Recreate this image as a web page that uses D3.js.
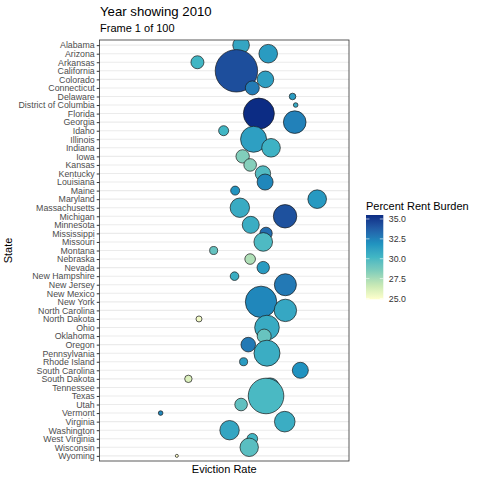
<!DOCTYPE html>
<html>
<head>
<meta charset="utf-8">
<script src="https://cdn.jsdelivr.net/npm/d3@7"></script>
<style>
  body { margin: 0; background: #fff; }
  svg { font-family: "Liberation Sans", Arial, sans-serif; }
</style>
</head>
<body>
<svg id="chart" width="480" height="480"></svg>
<script>
var states = ['Alabama', 'Arizona', 'Arkansas', 'California', 'Colorado', 'Connecticut',
  'Delaware', 'District of Columbia', 'Florida', 'Georgia', 'Idaho', 'Illinois', 'Indiana',
  'Iowa', 'Kansas', 'Kentucky', 'Louisiana', 'Maine', 'Maryland', 'Massachusetts', 'Michigan',
  'Minnesota', 'Mississippi', 'Missouri', 'Montana', 'Nebraska', 'Nevada', 'New Hampshire',
  'New Jersey', 'New Mexico', 'New York', 'North Carolina', 'North Dakota', 'Ohio', 'Oklahoma',
  'Oregon', 'Pennsylvania', 'Rhode Island', 'South Carolina', 'South Dakota', 'Tennessee',
  'Texas', 'Utah', 'Vermont', 'Virginia', 'Washington', 'West Virginia', 'Wisconsin', 'Wyoming'];

var evictionRate = [4.54, 5.41, 3.14, 4.39, 5.32, 4.90, 6.19, 6.29, 5.11, 6.26, 3.98, 4.94, 5.50,
  4.59, 4.83, 5.24, 5.31, 4.35, 6.98, 4.50, 5.95, 4.85, 5.34, 5.25, 3.66, 4.83, 5.25, 4.33,
  5.96, 5.21, 5.18, 5.96, 3.19, 5.37, 5.28, 4.77, 5.37, 4.62, 6.44, 2.85, 5.47, 5.34, 4.54,
  1.96, 5.94, 4.17, 4.90, 4.80, 2.48];

var rentBurden = [31.0, 31.5, 30.2, 34.3, 31.3, 32.7, 31.5, 30.8, 35.5, 32.5, 30.2, 31.3, 30.4,
  28.4, 28.3, 29.8, 32.3, 31.8, 31.6, 30.7, 34.2, 30.6, 33.2, 29.9, 29.3, 27.3, 31.5, 30.6,
  32.8, 30.5, 32.3, 30.9, 25.3, 30.7, 29.2, 32.8, 30.6, 31.5, 31.9, 26.0, 31.0, 30.0, 29.4,
  32.3, 30.6, 31.0, 30.2, 29.6, 24.9];

// renter households, thousands
var renters = [843, 1059, 517, 5500, 843, 600, 133, 65, 2940, 1563, 306, 2069, 1059, 549, 486,
  726, 783, 248, 1059, 1152, 1676, 884, 470, 1059, 196, 344, 470, 226, 1481, 441, 3017, 1535,
  110, 1852, 600, 652, 2069, 196, 783, 168, 1105, 3878, 486, 65, 1299, 1152, 344, 1036, 28];

var legendTicks = [25, 27.5, 30, 32.5, 35];
var palette = ['#ffffcc', '#c7e9b4', '#7fcdbb', '#41b6c4', '#1d91c0', '#225ea8', '#0c2c84'];

var rows = states.map(function(s, i) {
  return { state: s, rate: evictionRate[i], burden: rentBurden[i], renters: renters[i] };
});

var svg = d3.select('#chart');
var panel = { left: 99.5, right: 349, top: 40, bottom: 461 };

var x = d3.scaleLinear().domain([0, 8]).range([panel.left, panel.right]);
var y = d3.scalePoint().domain(states).range([panel.top, panel.bottom]).padding(0.6);
var r = d3.scaleSqrt().domain([0, 5500]).range([0, 21.2]);

var ext = d3.extent(rentBurden);
var color = d3.scaleLinear()
  .domain(palette.map(function(c, i) { return ext[0] + i * (ext[1] - ext[0]) / 6; }))
  .range(palette)
  .interpolate(d3.interpolateLab);

// titles
svg.append('text').attr('x', 100).attr('y', 16)
  .attr('font-size', 13.2).attr('fill', '#000').text('Year showing 2010');
svg.append('text').attr('x', 100).attr('y', 32)
  .attr('font-size', 11).attr('fill', '#000').text('Frame 1 of 100');

// horizontal grid
svg.append('g').selectAll('line').data(states).join('line')
  .attr('x1', panel.left).attr('x2', panel.right)
  .attr('y1', function(d) { return y(d); }).attr('y2', function(d) { return y(d); })
  .attr('stroke', '#ebebeb').attr('stroke-width', 1.07);

// bubbles, clipped to the panel
svg.append('clipPath').attr('id', 'clip').append('rect')
  .attr('x', panel.left).attr('y', panel.top)
  .attr('width', panel.right - panel.left).attr('height', panel.bottom - panel.top);

svg.append('g').attr('clip-path', 'url(#clip)')
  .selectAll('circle').data(rows).join('circle')
  .attr('cx', function(d) { return x(d.rate); })
  .attr('cy', function(d) { return y(d.state); })
  .attr('r', function(d) { return r(d.renters); })
  .attr('fill', function(d) { return color(d.burden); })
  .attr('stroke', '#1a1a1a').attr('stroke-width', 0.7);

// panel border
svg.append('rect')
  .attr('x', panel.left).attr('y', panel.top)
  .attr('width', panel.right - panel.left).attr('height', panel.bottom - panel.top)
  .attr('fill', 'none').attr('stroke', '#333').attr('stroke-width', 0.8);

// y axis
var yAxis = svg.append('g').attr('transform', 'translate(' + panel.left + ',0)')
  .call(d3.axisLeft(y).tickSize(2.75).tickPadding(2));
yAxis.select('.domain').remove();
yAxis.selectAll('.tick line').attr('stroke', '#333').attr('stroke-width', 1);
yAxis.selectAll('.tick text')
  .attr('font-family', '"Liberation Sans", Arial, sans-serif')
  .attr('font-size', 8.8).attr('fill', '#4d4d4d');

// axis titles
svg.append('text').attr('x', (panel.left + panel.right) / 2).attr('y', 473)
  .attr('text-anchor', 'middle').attr('font-size', 11).text('Eviction Rate');
svg.append('text')
  .attr('transform', 'translate(12,' + (panel.top + panel.bottom) / 2 + ') rotate(-90)')
  .attr('text-anchor', 'middle').attr('font-size', 11).text('State');

// colour bar legend
var bar = { x: 366, w: 17.3, top: 215, bottom: 299.3 };
var ly = d3.scaleLinear().domain(ext).range([bar.bottom, bar.top]);

var grad = svg.append('defs').append('linearGradient').attr('id', 'burden')
  .attr('x1', 0).attr('y1', 1).attr('x2', 0).attr('y2', 0);
grad.selectAll('stop').data(d3.range(0, 1.0001, 0.05)).join('stop')
  .attr('offset', function(t) { return t; })
  .attr('stop-color', function(t) { return color(ext[0] + t * (ext[1] - ext[0])); });

svg.append('text').attr('x', 366).attr('y', 210)
  .attr('font-size', 11).text('Percent Rent Burden');
svg.append('rect').attr('x', bar.x).attr('y', bar.top)
  .attr('width', bar.w).attr('height', bar.bottom - bar.top)
  .attr('fill', 'url(#burden)');

var lt = svg.append('g').selectAll('g').data(legendTicks).join('g');
lt.append('line')
  .attr('x1', bar.x).attr('x2', bar.x + bar.w / 5)
  .attr('y1', function(d) { return ly(d); }).attr('y2', function(d) { return ly(d); })
  .attr('stroke', '#fff').attr('stroke-width', 0.6);
lt.append('line')
  .attr('x1', bar.x + bar.w * 4 / 5).attr('x2', bar.x + bar.w)
  .attr('y1', function(d) { return ly(d); }).attr('y2', function(d) { return ly(d); })
  .attr('stroke', '#fff').attr('stroke-width', 0.6);
lt.append('text')
  .attr('x', bar.x + bar.w + 5.5)
  .attr('y', function(d) { return ly(d); })
  .attr('dy', '0.35em')
  .attr('font-size', 8.8).attr('fill', '#333')
  .text(function(d) { return d3.format('.1f')(d); });
</script>
</body>
</html>
